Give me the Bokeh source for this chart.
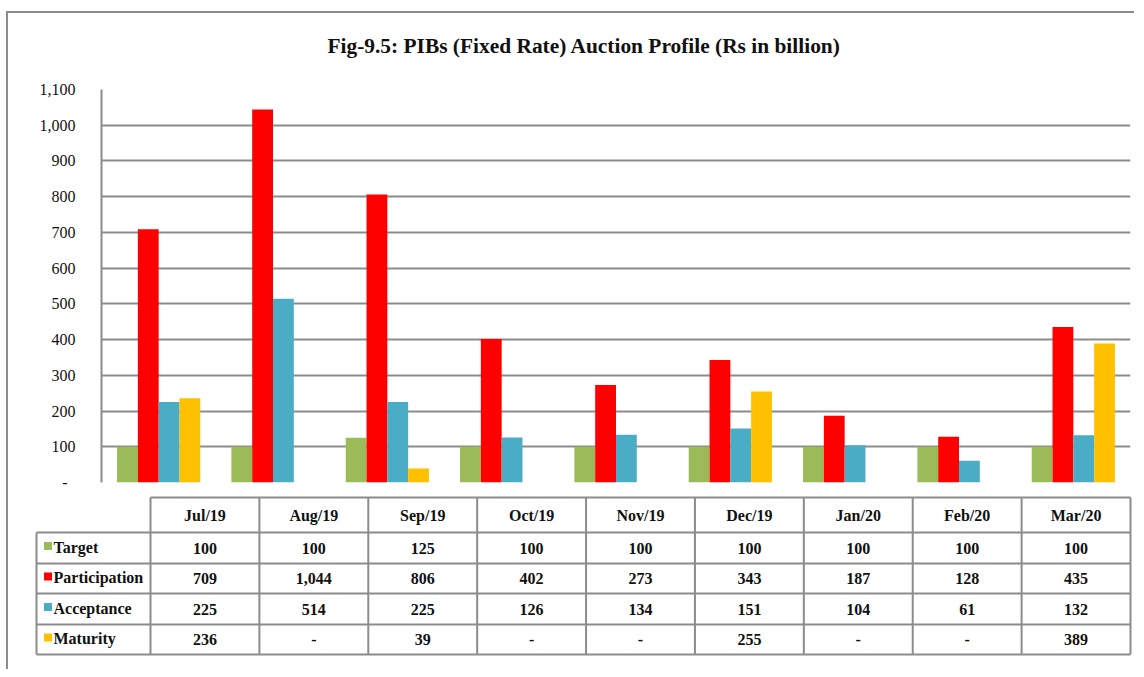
from bokeh.plotting import figure
from bokeh.models import Range1d, FixedTicker, NumeralTickFormatter, ColumnDataSource
from bokeh.core.properties import value
from bokeh.embed import file_html
from bokeh.resources import INLINE

# ---------------- data ----------------
months = ["Jul/19", "Aug/19", "Sep/19", "Oct/19", "Nov/19", "Dec/19", "Jan/20", "Feb/20", "Mar/20"]
target = [100, 100, 125, 100, 100, 100, 100, 100, 100]
participation = [709, 1044, 806, 402, 273, 343, 187, 128, 435]
acceptance = [225, 514, 225, 126, 134, 151, 104, 61, 132]
maturity = [236, None, 39, None, None, 255, None, None, 389]
series_names = ["Target", "Participation", "Acceptance", "Maturity"]
series_colors = ["#9BBB59", "#FF0000", "#4BACC6", "#FFC000"]
y_ticks = [0, 100, 200, 300, 400, 500, 600, 700, 800, 900, 1000, 1100]
title_text = "Fig-9.5: PIBs (Fixed Rate) Auction Profile (Rs in billion)"

series_values = [target, participation, acceptance, maturity]

SERIF = "Liberation Serif"
GRID = "#8c8c8c"
TXT = "#111111"
BORDER = "2px solid #8c8c8c"
W = 1128

# ---------------- title strip ----------------
TTH = 68
ttl = figure(width=W, height=TTH, x_range=Range1d(0, W), y_range=Range1d(TTH, 0),
             output_backend="svg", toolbar_location=None,
             x_axis_location=None, y_axis_location=None, min_border=0)
ttl.margin = (11, 0, 0, 6)
ttl.styles = {"border-left": BORDER, "border-top": BORDER}
ttl.grid.visible = False
ttl.outline_line_color = None
ttl.border_fill_color = "white"
ttl.text(x=[319], y=[32], text=[title_text], text_font=value(SERIF),
         text_font_size="21.4px", text_font_style="bold", text_color=TXT,
         text_align="left", text_baseline="middle")

# ---------------- chart ----------------
n = len(months)
bar_w = 0.182

p = figure(width=W, height=411, x_range=Range1d(0, n), y_range=Range1d(0, 1100),
           output_backend="svg", toolbar_location=None,
           x_axis_location=None,
           min_border_left=93, min_border_right=6, min_border_top=10, min_border_bottom=8)
p.margin = (0, 0, 0, 6)
p.styles = {"border-left": BORDER}
p.outline_line_color = None
p.background_fill_color = "white"
p.border_fill_color = "white"

for k, (name, vals, col) in enumerate(zip(series_names, series_values, series_colors)):
    xs, tops = [], []
    for i, v in enumerate(vals):
        if v is None:
            continue
        xs.append(i + 0.5 + (k - 1.5) * bar_w)
        tops.append(v)
    src = ColumnDataSource(dict(x=xs, top=tops))
    p.vbar(x="x", top="top", width=bar_w, bottom=0, source=src,
           fill_color=col, line_color=None)

p.yaxis.ticker = FixedTicker(ticks=y_ticks)
p.yaxis.formatter = NumeralTickFormatter(format="0,0")
p.yaxis.major_label_overrides = {0: "-\u00a0\u00a0"}
p.yaxis.major_tick_line_color = None
p.yaxis.minor_tick_line_color = None
p.yaxis.axis_line_color = GRID
p.yaxis.axis_line_width = 2
p.yaxis.major_label_standoff = 20
p.yaxis.major_label_text_font = SERIF
p.yaxis.major_label_text_font_size = "16px"
p.yaxis.major_label_text_color = TXT
p.xgrid.visible = False
p.ygrid.ticker = FixedTicker(ticks=y_ticks)
p.ygrid.grid_line_color = GRID
p.ygrid.grid_line_width = 2

# ---------------- data table ----------------
TH = 179
col_w = (1130 - 150) / 9.0
u0 = (8 - 150) / col_w
u1 = (1136 - 150) / col_w
lab_left = (36 - 150) / col_w
row_edges = [7, 42, 73, 103, 134, 164]  # header top, then row boundaries (px in table panel)

tb = figure(width=W, height=TH, x_range=Range1d(u0, u1), y_range=Range1d(TH, 0),
            output_backend="svg", toolbar_location=None,
            x_axis_location=None, y_axis_location=None, min_border=0)
tb.margin = (0, 0, 0, 6)
tb.styles = {"border-left": BORDER}
tb.grid.visible = False
tb.outline_line_color = None
tb.border_fill_color = "white"

# grid lines of the table
hx0, hx1, hy = [0], [n], [row_edges[0]]
for y in row_edges[1:]:
    hx0.append(lab_left); hx1.append(n); hy.append(y)
tb.segment(x0=hx0, x1=hx1, y0=hy, y1=hy, line_color=GRID, line_width=2)
vx = [lab_left] + list(range(n + 1))
vy0 = [row_edges[1]] + [row_edges[0]] * (n + 1)
vy1 = [row_edges[-1]] * (n + 2)
tb.segment(x0=vx, x1=vx, y0=vy0, y1=vy1, line_color=GRID, line_width=2)

# header
hdr_y = (row_edges[0] + row_edges[1]) / 2
tb.text(x=[i + 0.5 for i in range(n)], y=[hdr_y] * n, text=months,
        text_font=value(SERIF), text_font_size="16px", text_font_style="bold",
        text_color=TXT, text_align="center", text_baseline="middle")

# rows
cx, cy, ct = [], [], []
lx, ly, lt, sq_y = [], [], [], []
for r, (name, vals) in enumerate(zip(series_names, series_values)):
    yc = (row_edges[r + 1] + row_edges[r + 2]) / 2
    for i, v in enumerate(vals):
        cx.append(i + 0.5)
        cy.append(yc)
        ct.append("-" if v is None else f"{v:,}")
    lx.append(lab_left + 17 / col_w)
    ly.append(yc - 1)
    lt.append(name)
    sq_y.append(yc - 2)
tb.text(x=cx, y=cy, text=ct, text_font=value(SERIF), text_font_size="16px",
        text_font_style="bold", text_color=TXT, text_align="center", text_baseline="middle")
tb.text(x=lx, y=ly, text=lt, text_font=value(SERIF), text_font_size="16px",
        text_font_style="bold", text_color=TXT, text_align="left", text_baseline="middle")
tb.scatter(x=[lab_left + 11.5 / col_w] * 4, y=sq_y, marker="square", size=8,
           fill_color=series_colors, line_color=None)

open("out.html", "w").write(file_html([ttl, p, tb], INLINE))
